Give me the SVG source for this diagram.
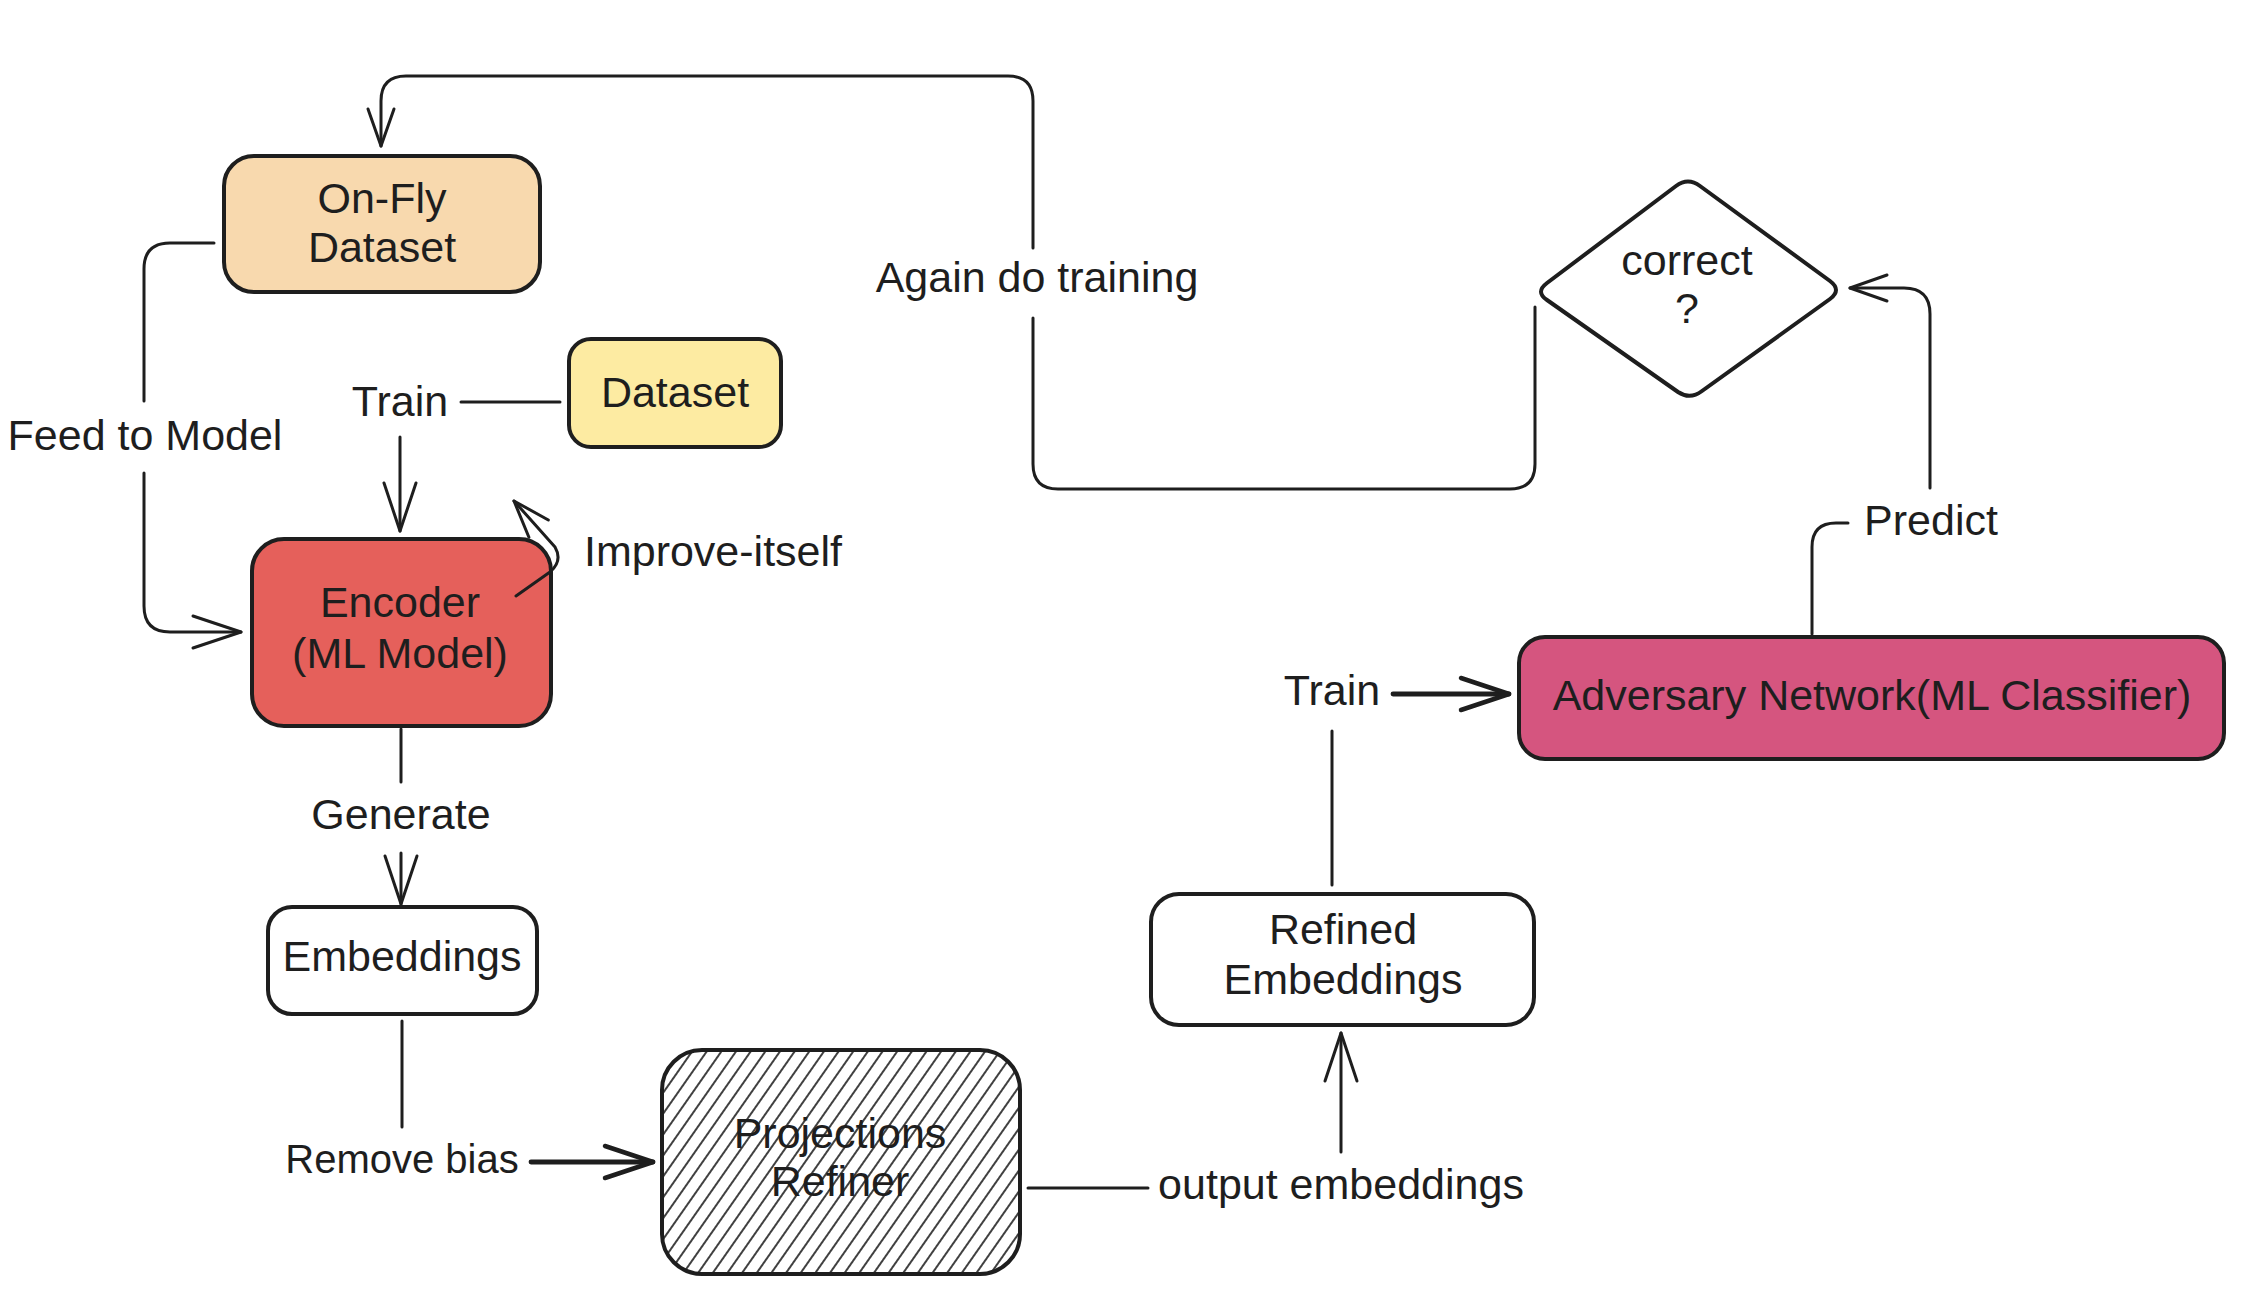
<svg xmlns="http://www.w3.org/2000/svg" width="2252" height="1300" viewBox="0 0 2252 1300">
<defs>
<style>
.nd { stroke:#1e1e1e; stroke-width:4; }
.t { font-family:"Liberation Sans", Arial, sans-serif; font-size:43px; fill:#1e1e1e; text-anchor:middle; }
.c { fill:none; stroke:#1e1e1e; stroke-width:3; stroke-linecap:round; stroke-linejoin:round; }
.ck { stroke-width:4.8; }
</style>
<marker id="ah" viewBox="-52 -20 56 40" refX="0" refY="0" markerWidth="56" markerHeight="40" markerUnits="userSpaceOnUse" orient="auto">
<path d="M-48,-16 L0,0 L-48,16" fill="none" stroke="#1e1e1e" stroke-width="3" stroke-linecap="round" stroke-linejoin="round"/>
</marker>
<marker id="aht" viewBox="-52 -20 56 40" refX="0" refY="0" markerWidth="56" markerHeight="40" markerUnits="userSpaceOnUse" orient="auto">
<path d="M-48,-16 L0,0 L-48,16" fill="none" stroke="#1e1e1e" stroke-width="4.5" stroke-linecap="round" stroke-linejoin="round"/>
</marker>
<marker id="ahs" viewBox="-42 -18 46 36" refX="0" refY="0" markerWidth="46" markerHeight="36" markerUnits="userSpaceOnUse" orient="auto">
<path d="M-37,-13 L0,0 L-37,13" fill="none" stroke="#1e1e1e" stroke-width="3" stroke-linecap="round" stroke-linejoin="round"/>
</marker>
<pattern id="hatch" patternUnits="userSpaceOnUse" width="12" height="12" patternTransform="rotate(35)">
<line x1="6" y1="-1" x2="6" y2="13" stroke="#1e1e1e" stroke-width="1.7"/>
</pattern>
</defs>
<rect width="2252" height="1300" fill="#ffffff"/>

<g id="onfly-dataset">
<rect class="nd" x="224" y="156" width="316" height="136" rx="30" fill="#f8d9ae"/>
<text class="t" x="382" y="213">On-Fly</text>
<text class="t" x="382" y="262">Dataset</text>
</g>

<g id="dataset">
<rect class="nd" x="569" y="339" width="212" height="108" rx="22" fill="#fdeba2"/>
<text class="t" x="675" y="407">Dataset</text>
</g>

<g id="encoder">
<rect class="nd" x="252" y="539" width="299" height="187" rx="32" fill="#e5605b"/>
<text class="t" x="400" y="617">Encoder</text>
<text class="t" x="400" y="668">(ML Model)</text>
</g>

<g id="embeddings">
<rect class="nd" x="268" y="907" width="269" height="107" rx="24" fill="#ffffff"/>
<text class="t" x="402" y="971">Embeddings</text>
</g>

<g id="projections-refiner">
<rect x="662" y="1050" width="358" height="224" rx="40" fill="url(#hatch)"/>
<rect class="nd" x="662" y="1050" width="358" height="224" rx="40" fill="none"/>
<text class="t" x="840" y="1148">Projections</text>
<text class="t" x="840" y="1196">Refiner</text>
</g>

<g id="refined-embeddings">
<rect class="nd" x="1151" y="894" width="383" height="131" rx="28" fill="#ffffff"/>
<text class="t" x="1343" y="944">Refined</text>
<text class="t" x="1343" y="994">Embeddings</text>
</g>

<g id="adversary-network">
<rect class="nd" x="1519" y="637" width="705" height="122" rx="26" fill="#d5557f"/>
<text class="t" x="1872" y="710">Adversary Network(ML Classifier)</text>
</g>

<g id="correct-decision">
<path class="nd" fill="#ffffff" stroke-width="5" stroke-linejoin="round" d="M1676,186 L1547,283 Q1535,292 1547,300 L1678,392 Q1690,400 1702,391 L1830,299 Q1842,290 1830,281 L1700,186 Q1688,177 1676,186 Z"/>
<text class="t" x="1687" y="275">correct</text>
<text class="t" x="1687" y="323">?</text>
</g>

<g id="connectors">
<!-- Again do training loop -->
<path class="c" d="M1535,307 L1535,464 Q1535,489 1510,489 L1058,489 Q1033,489 1033,464 L1033,318"/>
<path class="c" d="M1033,248 L1033,101 Q1033,76 1008,76 L406,76 Q381,76 381,101 L381,146" marker-end="url(#ahs)"/>
<text class="t" x="1037" y="292">Again do training</text>
<!-- Predict -->
<path class="c" d="M1812,634 L1812,547 Q1812,523 1836,523 L1848,523"/>
<path class="c" d="M1930,488 L1930,314 Q1930,288 1904,288 L1850,288" marker-end="url(#ahs)"/>
<text class="t" x="1931" y="535">Predict</text>
<!-- Feed to Model -->
<path class="c" d="M214,243 L170,243 Q144,243 144,269 L144,401"/>
<path class="c" d="M144,473 L144,606 Q144,632 170,632 L241,632" marker-end="url(#ah)"/>
<text class="t" x="145" y="450">Feed to Model</text>
<!-- Dataset Train Encoder -->
<path class="c" d="M560,402 L461,402"/>
<path class="c" d="M400,437 L400,531" marker-end="url(#ah)"/>
<text class="t" x="400" y="416">Train</text>
<!-- Improve-itself -->
<path class="c" d="M516,596 L550,572 Q563,561 555,547 L514,501" marker-end="url(#ahs)"/>
<text class="t" x="713" y="566">Improve-itself</text>
<!-- Generate -->
<path class="c" d="M401,729 L401,782"/>
<path class="c" d="M401,853 L401,904" marker-end="url(#ah)"/>
<text class="t" x="401" y="829">Generate</text>
<!-- Remove bias -->
<path class="c" d="M402,1021 L402,1127"/>
<path class="c ck" d="M531,1162 L653,1162" marker-end="url(#aht)"/>
<text class="t" x="402" y="1173" style="font-size:40px">Remove bias</text>
<!-- output embeddings -->
<path class="c" d="M1028,1188 L1148,1188"/>
<path class="c" d="M1341,1152 L1341,1033" marker-end="url(#ah)"/>
<text class="t" x="1341" y="1199">output embeddings</text>
<!-- Train to Adversary -->
<path class="c" d="M1332,885 L1332,731"/>
<path class="c ck" d="M1393,694 L1509,694" marker-end="url(#aht)"/>
<text class="t" x="1332" y="705">Train</text>
</g>
</svg>
